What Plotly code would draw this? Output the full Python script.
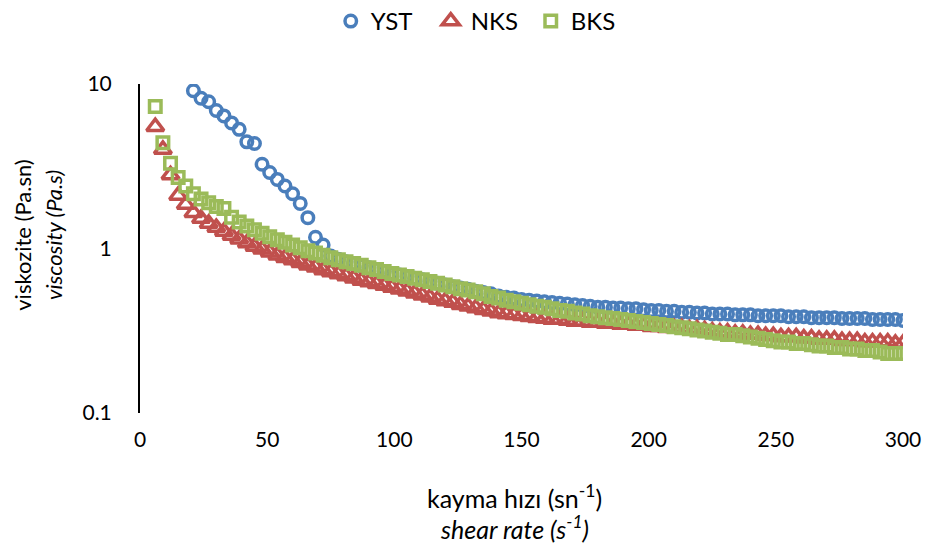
import plotly.graph_objects as go

# shear rate (1/s) for NKS and BKS
shear_rate = [
    6, 9, 12, 15, 18, 21, 24, 27, 30, 33,
    36, 39, 42, 45, 48, 51, 54, 57, 60, 63,
    66, 69, 72, 75, 78, 81, 84, 87, 90, 93,
    96, 99, 102, 105, 108, 111, 114, 117, 120, 123,
    126, 129, 132, 135, 138, 141, 144, 147, 150, 153,
    156, 159, 162, 165, 168, 171, 174, 177, 180, 183,
    186, 189, 192, 195, 198, 201, 204, 207, 210, 213,
    216, 219, 222, 225, 228, 231, 234, 237, 240, 243,
    246, 249, 252, 255, 258, 261, 264, 267, 270, 273,
    276, 279, 282, 285, 288, 291, 294, 297, 300,
]

# shear rate (1/s) for YST
shear_rate_yst = [
    21, 24, 27, 30, 33, 36, 39, 42, 45, 48,
    51, 54, 57, 60, 63, 66, 69, 72, 75, 78,
    81, 84, 87, 90, 93, 96, 99, 102, 105, 108,
    111, 114, 117, 120, 123, 126, 129, 132, 135, 138,
    141, 144, 147, 150, 153, 156, 159, 162, 165, 168,
    171, 174, 177, 180, 183, 186, 189, 192, 195, 198,
    201, 204, 207, 210, 213, 216, 219, 222, 225, 228,
    231, 234, 237, 240, 243, 246, 249, 252, 255, 258,
    261, 264, 267, 270, 273, 276, 279, 282, 285, 288,
    291, 294, 297, 300,
]

yst = [
    9.1, 8.2, 7.8, 6.9, 6.4, 5.8, 5.3, 4.45, 4.35, 3.25,
    2.9, 2.63, 2.4, 2.15, 1.88, 1.54, 1.17, 1.05, 0.9, 0.86,
    0.83, 0.81, 0.785, 0.765, 0.745, 0.725, 0.705, 0.69, 0.675, 0.66,
    0.645, 0.63, 0.615, 0.60, 0.585, 0.575, 0.565, 0.55, 0.54, 0.53,
    0.515, 0.505, 0.50, 0.49, 0.485, 0.48, 0.475, 0.47, 0.465, 0.46,
    0.455, 0.45, 0.445, 0.44, 0.44, 0.435, 0.435, 0.43, 0.43, 0.425,
    0.42, 0.42, 0.415, 0.415, 0.41, 0.41, 0.405, 0.405, 0.40, 0.40,
    0.40, 0.395, 0.395, 0.395, 0.39, 0.39, 0.39, 0.39, 0.385, 0.385,
    0.385, 0.38, 0.38, 0.38, 0.38, 0.375, 0.375, 0.375, 0.375, 0.37,
    0.37, 0.37, 0.37, 0.365,
]

nks = [
    5.5, 4.0, 2.8, 2.1, 1.85, 1.65, 1.52, 1.42, 1.34, 1.27,
    1.2, 1.14, 1.08, 1.03, 0.99, 0.95, 0.91, 0.88, 0.85, 0.82,
    0.79, 0.77, 0.74, 0.72, 0.70, 0.68, 0.66, 0.64, 0.625, 0.61,
    0.595, 0.58, 0.565, 0.55, 0.535, 0.52, 0.505, 0.49, 0.48, 0.47,
    0.455, 0.445, 0.435, 0.425, 0.415, 0.405, 0.40, 0.395, 0.39, 0.385,
    0.38, 0.375, 0.37, 0.37, 0.365, 0.36, 0.36, 0.355, 0.355, 0.35,
    0.35, 0.345, 0.345, 0.34, 0.34, 0.335, 0.335, 0.33, 0.33, 0.33,
    0.325, 0.325, 0.32, 0.315, 0.31, 0.31, 0.305, 0.305, 0.30, 0.30,
    0.295, 0.295, 0.29, 0.29, 0.29, 0.285, 0.285, 0.28, 0.28, 0.28,
    0.275, 0.275, 0.275, 0.27, 0.27, 0.27, 0.27, 0.265, 0.265,
]

bks = [
    7.3, 4.4, 3.3, 2.7, 2.4, 2.15, 2.0, 1.9, 1.8, 1.75,
    1.55, 1.45, 1.37, 1.3, 1.24, 1.18, 1.13, 1.09, 1.05, 1.01,
    0.97, 0.94, 0.91, 0.88, 0.855, 0.83, 0.81, 0.79, 0.765, 0.745,
    0.725, 0.705, 0.69, 0.675, 0.66, 0.645, 0.63, 0.615, 0.60, 0.585,
    0.57, 0.56, 0.545, 0.53, 0.51, 0.50, 0.485, 0.475, 0.465, 0.455,
    0.445, 0.44, 0.43, 0.42, 0.415, 0.405, 0.40, 0.39, 0.385, 0.38,
    0.375, 0.37, 0.365, 0.36, 0.355, 0.35, 0.345, 0.34, 0.335, 0.33,
    0.325, 0.32, 0.315, 0.31, 0.305, 0.30, 0.30, 0.295, 0.29, 0.285,
    0.28, 0.275, 0.27, 0.27, 0.265, 0.265, 0.26, 0.255, 0.255, 0.25,
    0.25, 0.245, 0.245, 0.24, 0.24, 0.235, 0.23, 0.23, 0.23,
]

series_names = ["YST", "NKS", "BKS"]
y_tick_vals = [0.1, 1, 10]
y_tick_text = ["0.1", "1", "10"]
x_tick_vals = [0, 50, 100, 150, 200, 250, 300]

FONT = "Lato, 'Open Sans', sans-serif"

fig = go.Figure()
fig.add_trace(go.Scatter(
    x=shear_rate_yst, y=yst, name=series_names[0], mode="markers",
    marker=dict(symbol="circle-open", size=11.5, color="#4A7EBB",
                line=dict(width=3.5, color="#4A7EBB")),
))
fig.add_trace(go.Scatter(
    x=shear_rate, y=nks, name=series_names[1], mode="markers",
    marker=dict(symbol="triangle-up-open", size=15, color="#C0504D",
                line=dict(width=3.5, color="#C0504D")),
))
fig.add_trace(go.Scatter(
    x=shear_rate, y=bks, name=series_names[2], mode="markers",
    marker=dict(symbol="square-open", size=11.5, color="#9BBB59",
                line=dict(width=3.5, color="#9BBB59")),
))

fig.update_layout(
    width=925, height=544,
    margin=dict(l=140, r=22, t=84, b=131, autoexpand=False),
    paper_bgcolor="white", plot_bgcolor="white",
    font=dict(family=FONT, size=21, color="black"),
    showlegend=True,
    legend=dict(orientation="h", x=0.25, xanchor="left", y=1.19, yanchor="middle",
                font=dict(size=24), entrywidth=55, entrywidthmode="pixels",
                bgcolor="rgba(0,0,0,0)"),
    xaxis=dict(range=[0, 300], tickvals=x_tick_vals, showgrid=False, zeroline=False,
               showline=False, ticks="outside", ticklen=8, tickcolor="rgba(0,0,0,0)",
               tickfont=dict(size=21)),
    yaxis=dict(type="log", range=[-1, 1], tickvals=y_tick_vals, ticktext=y_tick_text,
               showgrid=False, zeroline=False, showline=True, linecolor="black",
               linewidth=2, ticks="outside", ticklen=22, tickcolor="rgba(0,0,0,0)",
               tickfont=dict(size=21)),
    annotations=[
        dict(text="kayma hızı (sn<sup>-1</sup>)", x=0.491, y=-0.255, xref="paper",
             yref="paper", showarrow=False, xanchor="center", yanchor="middle",
             font=dict(size=25)),
        dict(text="<i>shear rate (s<sup>-1</sup>)</i>", x=0.491, y=-0.347, xref="paper",
             yref="paper", showarrow=False, xanchor="center", yanchor="middle",
             font=dict(size=25)),
        dict(text="viskozite (Pa.sn)", x=-0.155, y=0.541, xref="paper", yref="paper",
             showarrow=False, textangle=-90, xanchor="center", yanchor="middle",
             font=dict(size=22)),
        dict(text="<i>viscosity (Pa.s)</i>", x=-0.114, y=0.541, xref="paper",
             yref="paper", showarrow=False, textangle=-90, xanchor="center",
             yanchor="middle", font=dict(size=22)),
    ],
)

fig.write_html("out.html", config={"displayModeBar": False},
               post_script="document.body.style.margin='0';")
